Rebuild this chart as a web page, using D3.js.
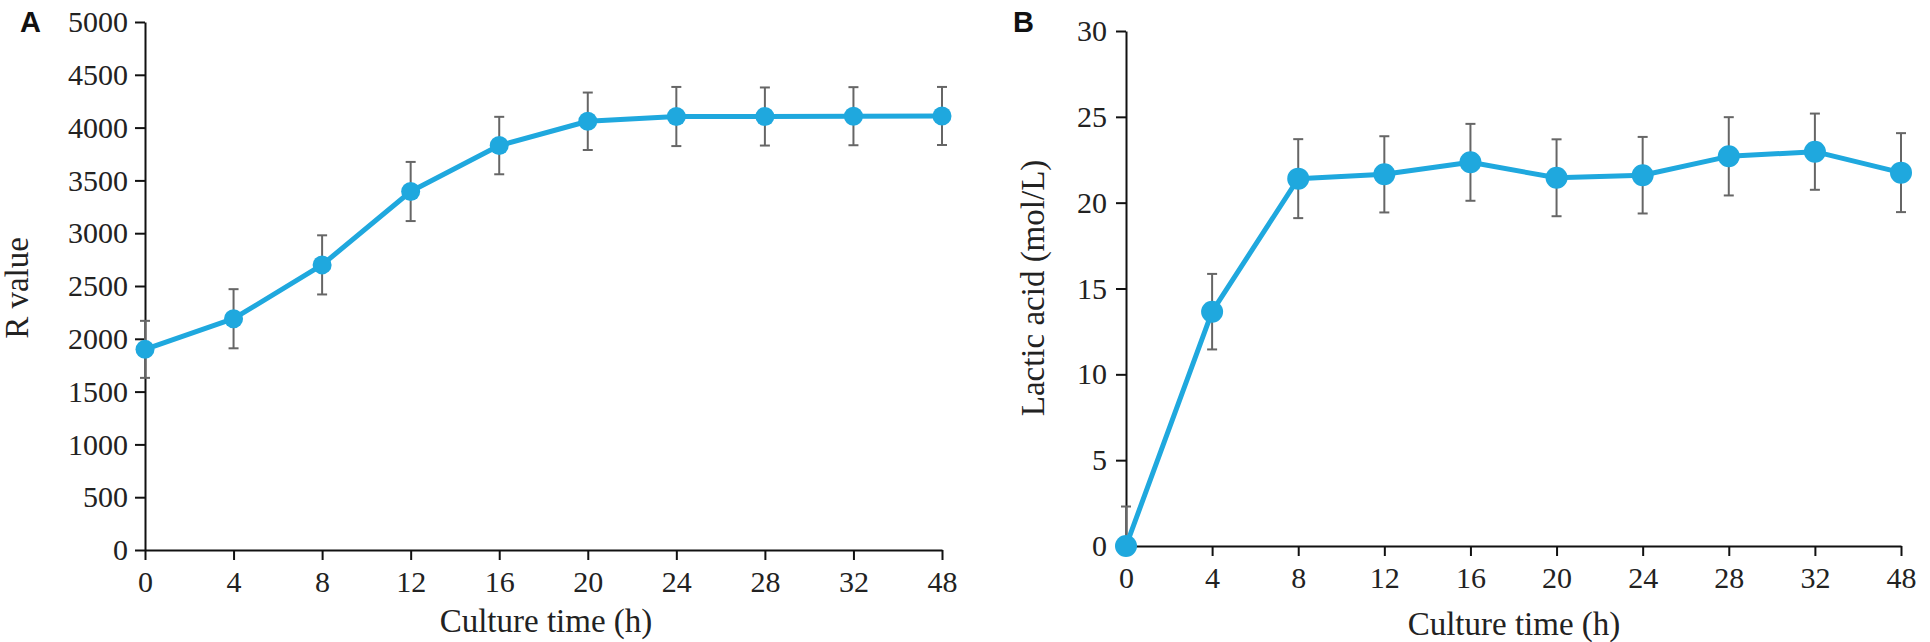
<!DOCTYPE html>
<html>
<head>
<meta charset="utf-8">
<script src="https://cdn.jsdelivr.net/npm/d3@7"></script>
<style>
  body { margin: 0; background: #fff; }
  .tick text { font-family: "Liberation Serif", "Times New Roman", serif; font-size: 30px; fill: #222; }
  .axis path, .axis line { stroke: #111; stroke-width: 2; }
  .title { font-family: "Liberation Serif", "Times New Roman", serif; font-size: 33px; fill: #222; }
  .panel { font-family: "Liberation Sans", Arial, sans-serif; font-size: 29px; font-weight: bold; fill: #111; }
</style>
</head>
<body>
<div id="chart"></div>
<script>
// Data
var hours = ['0', '4', '8', '12', '16', '20', '24', '28', '32', '48'];
var rValue = [1900, 2190, 2700, 3395, 3830, 4060, 4105, 4105, 4108, 4110];
var rError = [270, 280, 280, 280, 272, 272, 280, 275, 275, 275];
var lactic = [0, 13.65, 21.4, 21.65, 22.35, 21.45, 21.6, 22.7, 22.97, 21.75];
var lacticError = [2.3, 2.2, 2.3, 2.22, 2.24, 2.24, 2.23, 2.28, 2.22, 2.3];
var rTicks = [0, 500, 1000, 1500, 2000, 2500, 3000, 3500, 4000, 4500, 5000];
var lacticTicks = [0, 5, 10, 15, 20, 25, 30];

var chart_width = 1930;
var chart_height = 642;
var line_color = '#1fa8de';
var err_color = '#666';

var svg = d3.select('#chart')
  .append('svg')
  .attr('width', chart_width)
  .attr('height', chart_height);

function drawPanel(opt) {
  var xScale = d3.scalePoint()
    .domain(hours)
    .range([opt.left, opt.right]);

  var yScale = d3.scaleLinear()
    .domain(opt.domain)
    .range([opt.bottom, opt.top]);

  var g = svg.append('g');

  // axes
  g.append('g')
    .attr('class', 'axis')
    .attr('transform', 'translate(' + opt.left + ',0)')
    .call(d3.axisLeft(yScale)
      .tickValues(opt.ticks)
      .tickFormat(d3.format('d'))
      .tickSize(10)
      .tickSizeOuter(0)
      .tickPadding(opt.yPad));

  g.append('g')
    .attr('class', 'axis')
    .attr('transform', 'translate(0,' + opt.bottom + ')')
    .call(d3.axisBottom(xScale)
      .tickSize(10)
      .tickSizeOuter(0)
      .tickPadding(opt.xPad));

  // error bars
  var data = hours.map(function (h, i) {
    return { h: h, v: opt.values[i], e: opt.errors[i] };
  });

  var err = g.append('g')
    .attr('stroke', err_color)
    .attr('stroke-width', 2)
    .attr('fill', 'none');

  err.selectAll('line.v')
    .data(data)
    .enter()
    .append('line')
    .attr('x1', function (d) { return xScale(d.h); })
    .attr('x2', function (d) { return xScale(d.h); })
    .attr('y1', function (d) { return yScale(Math.max(opt.domain[0], d.v - d.e)); })
    .attr('y2', function (d) { return yScale(d.v + d.e); });

  err.selectAll('line.top')
    .data(data)
    .enter()
    .append('line')
    .attr('x1', function (d) { return xScale(d.h) - 5; })
    .attr('x2', function (d) { return xScale(d.h) + 5; })
    .attr('y1', function (d) { return yScale(d.v + d.e); })
    .attr('y2', function (d) { return yScale(d.v + d.e); });

  err.selectAll('line.bot')
    .data(data.filter(function (d) { return d.v - d.e > opt.domain[0]; }))
    .enter()
    .append('line')
    .attr('x1', function (d) { return xScale(d.h) - 5; })
    .attr('x2', function (d) { return xScale(d.h) + 5; })
    .attr('y1', function (d) { return yScale(d.v - d.e); })
    .attr('y2', function (d) { return yScale(d.v - d.e); });

  // line + points
  var line = d3.line()
    .x(function (d) { return xScale(d.h); })
    .y(function (d) { return yScale(d.v); });

  g.append('path')
    .datum(data)
    .attr('d', line)
    .attr('fill', 'none')
    .attr('stroke', line_color)
    .attr('stroke-width', 5)
    .attr('stroke-linejoin', 'round');

  g.selectAll('circle')
    .data(data)
    .enter()
    .append('circle')
    .attr('cx', function (d) { return xScale(d.h); })
    .attr('cy', function (d) { return yScale(d.v); })
    .attr('r', opt.r)
    .attr('fill', line_color);

  // titles
  g.append('text')
    .attr('class', 'title')
    .attr('x', opt.xTitle[0])
    .attr('y', opt.xTitle[1])
    .attr('text-anchor', 'middle')
    .text('Culture time (h)');

  g.append('text')
    .attr('class', 'title')
    .attr('transform', 'translate(' + opt.yTitle[0] + ',' + opt.yTitle[1] + ') rotate(-90)')
    .attr('text-anchor', 'middle')
    .text(opt.yLabel);

  g.append('text')
    .attr('class', 'panel')
    .attr('x', opt.tag[0])
    .attr('y', opt.tag[1])
    .text(opt.tagText);
}

drawPanel({
  left: 145, right: 942, top: 22, bottom: 550,
  domain: [0, 5000], ticks: rTicks,
  values: rValue, errors: rError,
  yPad: 7, xPad: 11, r: 9.5,
  xTitle: [546, 632], yTitle: [28, 288],
  yLabel: 'R value',
  tag: [20, 32], tagText: 'A'
});

drawPanel({
  left: 1126, right: 1901, top: 31, bottom: 546,
  domain: [0, 30], ticks: lacticTicks,
  values: lactic, errors: lacticError,
  yPad: 9, xPad: 11, r: 11,
  xTitle: [1514, 635], yTitle: [1044, 288],
  yLabel: 'Lactic acid (mol/L)',
  tag: [1013, 32], tagText: 'B'
});
</script>
</body>
</html>
